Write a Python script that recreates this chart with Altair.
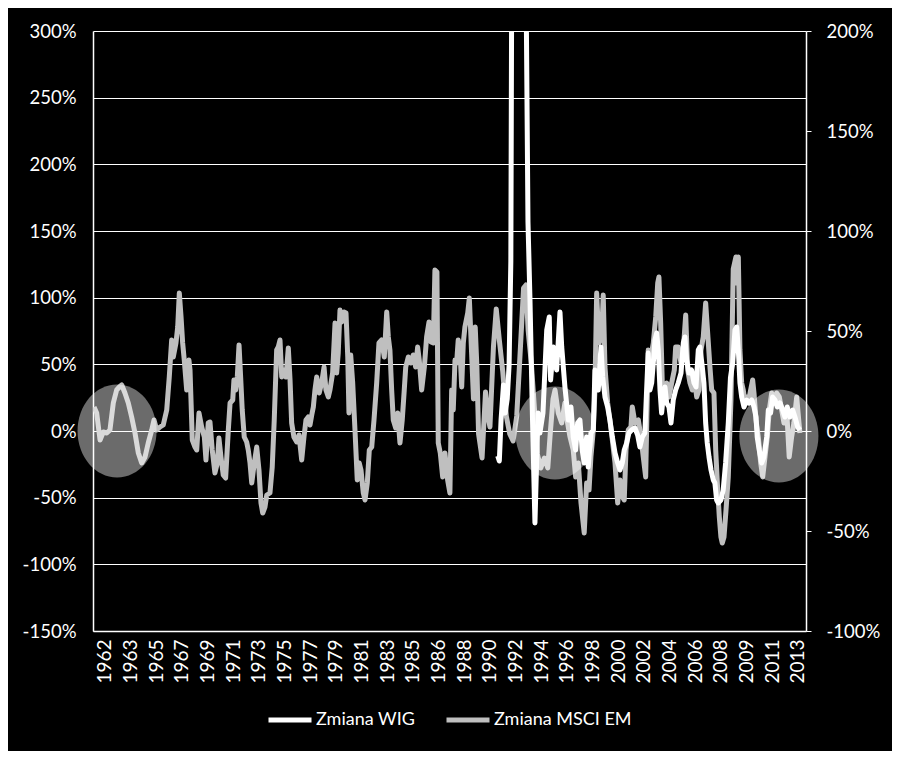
import json
import altair as alt
import pandas as pd

# ---------------- data ----------------
x_labels = ["1962", "1963", "1965", "1967", "1969", "1971", "1973", "1975", "1977",
            "1979", "1981", "1983", "1985", "1986", "1988", "1990", "1992", "1994",
            "1996", "1998", "2000", "2002", "2004", "2006", "2008", "2009", "2011", "2013"]

left_ticks = [-150, -100, -50, 0, 50, 100, 150, 200, 250, 300]
right_ticks = [-100, -50, 0, 50, 100, 150, 200]

series_names = ["Zmiana WIG", "Zmiana MSCI EM"]
series_colors = ["#ffffff", "#bfbfbf"]

# MSCI EM yearly change (right axis, %)
gray_year = [1961.18, 1961.38, 1961.63, 1961.87, 1962.13, 1962.37, 1962.62, 1962.87, 1963.07, 1963.25,
             1963.49, 1963.74, 1963.99, 1964.24, 1964.49, 1964.74, 1964.99, 1965.23, 1965.49, 1965.66,
             1965.86, 1966.11, 1966.35, 1966.61, 1966.80, 1966.98, 1967.10, 1967.30, 1967.43, 1967.55,
             1967.68, 1967.80, 1967.92, 1968.10, 1968.27, 1968.35, 1968.52, 1968.72, 1968.85, 1969.02,
             1969.22, 1969.42, 1969.54, 1969.71, 1969.84, 1970.01, 1970.21, 1970.39, 1970.51, 1970.66,
             1970.83, 1971.01, 1971.21, 1971.34, 1971.54, 1971.63, 1971.76, 1971.88, 1972.01, 1972.13,
             1972.25, 1972.40, 1972.58, 1972.70, 1972.83, 1972.96, 1973.15, 1973.33, 1973.50, 1973.65,
             1973.78, 1973.95, 1974.08, 1974.32, 1974.49, 1974.64, 1974.82, 1974.94, 1975.07, 1975.20,
             1975.37, 1975.52, 1975.69, 1975.82, 1975.94, 1976.11, 1976.32, 1976.49, 1976.69, 1976.86,
             1977.01, 1977.18, 1977.31, 1977.44, 1977.56, 1977.68, 1977.81, 1978.00, 1978.18, 1978.36,
             1978.50, 1978.68, 1978.80, 1979.00, 1979.18, 1979.30, 1979.42, 1979.55, 1979.68, 1979.85,
             1980.00, 1980.13, 1980.22, 1980.35, 1980.50, 1980.67, 1980.84, 1980.99, 1981.12, 1981.29,
             1981.42, 1981.59, 1981.74, 1981.92, 1982.09, 1982.29, 1982.46, 1982.66, 1982.86, 1983.04,
             1983.16, 1983.28, 1983.41, 1983.53, 1983.71, 1983.86, 1984.03, 1984.20, 1984.35, 1984.46,
             1984.65, 1984.85, 1985.02, 1985.20, 1985.35, 1985.47, 1985.65, 1985.85, 1986.02, 1986.20,
             1986.35, 1986.52, 1986.64, 1986.79, 1986.89, 1987.04, 1987.22, 1987.39, 1987.59, 1987.76,
             1987.89, 1988.01, 1988.14, 1988.26, 1988.38, 1988.51, 1988.64, 1988.76, 1988.88, 1989.09,
             1989.21, 1989.52, 1989.65, 1989.77, 1989.90, 1990.16, 1990.42, 1990.60, 1990.75, 1991.01,
             1991.22, 1991.45, 1991.71, 1991.97, 1992.23, 1992.48, 1992.75, 1993.00, 1993.26, 1993.44,
             1993.60, 1993.85, 1994.11, 1994.29, 1994.55, 1994.81, 1995.07, 1995.25, 1995.46, 1995.61,
             1995.85, 1996.11, 1996.35, 1996.55, 1996.73, 1996.97, 1997.15, 1997.35, 1997.55, 1997.79,
             1997.97, 1998.15, 1998.29, 1998.47, 1998.59, 1998.72, 1998.89, 1999.09, 1999.21, 1999.34,
             1999.54, 1999.71, 1999.89, 2000.09, 2000.29, 2000.46, 2000.66, 2000.78, 2000.91, 2001.08,
             2001.28, 2001.38, 2001.58, 2001.83, 2002.03, 2002.20, 2002.38, 2002.57, 2002.77, 2002.95,
             2003.13, 2003.28, 2003.37, 2003.50, 2003.62, 2003.77, 2003.95, 2004.12, 2004.32, 2004.52,
             2004.62, 2004.81, 2005.02, 2005.19, 2005.37, 2005.52, 2005.69, 2005.86, 2006.01, 2006.19,
             2006.36, 2006.51, 2006.68, 2006.86, 2007.01, 2007.18, 2007.31, 2007.48, 2007.61, 2007.76,
             2007.88, 2008.00, 2008.10, 2008.23, 2008.38, 2008.55, 2008.75, 2008.92, 2009.12, 2009.22,
             2009.30, 2009.42, 2009.55, 2009.67, 2009.80, 2009.92, 2010.04, 2010.22, 2010.37, 2010.47,
             2010.62, 2010.79, 2010.97, 2011.12, 2011.29, 2011.46, 2011.61, 2011.79, 2011.96, 2012.16,
             2012.36, 2012.54, 2012.71, 2012.91, 2013.10, 2013.28, 2013.45, 2013.66, 2013.83, 2013.90]
gray_change = [12, 9, -4.5, -0.5, -1, 0.5, 14, 20.5, 22, 23,
               19, 14, 7, -1, -11, -16, -13, -6, 0.5, 5.5,
               0.5, 2, 3, 10.5, 27, 45.5, 37, 44, 52, 69,
               57, 44, 35.5, 20.5, 35.5, 30.5, -4.5, -8, -9.5, 9,
               2, -3, -14.5, 4, 4.5, -9.5, -21, -16, -3.5, -13,
               -22, -23.5, 0.5, 14, 15.5, 25.5, 20.5, 27, 43, 27,
               10.5, -3, -5.5, -9.5, -16, -26, -16, -8, -19.5, -36,
               -41, -38, -32, -31, -18, 5.5, 40.5, 42, 45.5, 27,
               30.5, 27, 41.5, 25.5, 4, -3, -5.5, -2, -14.5, -3,
               5.5, 7, 3, 8, 12, 20.5, 27, 19, 24, 32,
               20.5, 17, 20.5, 29, 54, 29, 39, 60.5, 54.5, 59.5,
               59, 37, 9, 38, 24, 0.5, -24.5, -16, -19.5, -31,
               -34.5, -26, -9.5, -8, 5.5, 24, 44, 45.5, 37, 59.5,
               47, 40.5, 20.5, 5.5, 1.5, 9, -6, 5.5, 20.5, 32,
               37, 34, 38, 32, 42, 35.5, 20.5, 32, 47, 54.5,
               44.5, 44, 80.5, 79.5, -6, -11, -23, -11, -24.5, -31,
               20.5, 10.5, 35.5, 34, 45.5, 40.5, 22, 44, 52, 59,
               66.5, 16, 52, 33, -1.5, -13.5, 19.5, 7.5, 2, 42,
               61, 45.5, 29.5, 7.5, -1.5, -5, 7.5, 38.5, 71.5, 73,
               50.5, 33, 7.5, -11.5, -18.5, -13.5, -18.5, -1.5, 16, 20.5,
               9, 4, 14, 4, -3, -9.5, -23, -16, -36, -51,
               -26, -29.5, -13, 0.5, 20.5, 69, 44, 47, 68, 32,
               14, 5.5, -4.5, -16, -36, -24.5, -33, -34.5, -9.5, 0.5,
               2, 12, 4, 5.5, -3, -13, -23, 40.5, 37, 44,
               57, 74, 77, 54, 24, 20.5, 24, 17, 24, 30.5,
               42, 42, 34, 40.5, 58, 30.5, 24, 20.5, 27, 17,
               20.5, 40.5, 47, 64, 49, 32, 20.5, 19, -9.5, -29.5,
               -43, -53, -56, -53, -39.5, -23, 15.5, 81, 87, 74,
               87, 40.5, 24, 20.5, 14, 17, 14, 20.5, 25.5, 19,
               5.5, -3, -16, -23, -13, -3, 10.5, 19, 14, 19,
               17, 10.5, 4, 10.5, -13, -3, 4, 17, 4, -1]

# WIG yearly change (left axis, %)
wig_year = [1991.33, 1991.45, 1991.58, 1991.76, 1991.89, 1992.04, 1992.18, 1992.31, 1992.40, 1992.70,
            1993.00, 1993.30, 1993.45, 1993.59, 1993.74, 1993.93, 1994.11, 1994.34, 1994.48, 1994.71,
            1994.99, 1995.18, 1995.28, 1995.48, 1995.73, 1995.98, 1996.11, 1996.35, 1996.60, 1996.80,
            1996.97, 1997.15, 1997.30, 1997.47, 1997.64, 1997.79, 1997.97, 1998.09, 1998.29, 1998.47,
            1998.59, 1998.72, 1998.84, 1999.04, 1999.17, 1999.34, 1999.54, 1999.71, 1999.89, 2000.09,
            2000.29, 2000.46, 2000.63, 2000.78, 2000.96, 2001.13, 2001.33, 2001.58, 2001.78, 2001.95,
            2002.13, 2002.32, 2002.45, 2002.57, 2002.70, 2002.83, 2002.95, 2003.07, 2003.20, 2003.32,
            2003.45, 2003.57, 2003.69, 2003.82, 2003.95, 2004.12, 2004.27, 2004.44, 2004.62, 2004.81,
            2005.02, 2005.19, 2005.31, 2005.44, 2005.61, 2005.81, 2005.99, 2006.14, 2006.31, 2006.43,
            2006.61, 2006.73, 2006.86, 2006.98, 2007.11, 2007.26, 2007.43, 2007.55, 2007.68, 2007.80,
            2008.00, 2008.17, 2008.35, 2008.55, 2008.71, 2008.88, 2009.05, 2009.18, 2009.30, 2009.42,
            2009.55, 2009.72, 2009.92, 2010.12, 2010.30, 2010.47, 2010.62, 2010.71, 2010.86, 2011.04,
            2011.21, 2011.42, 2011.54, 2011.71, 2011.86, 2012.04, 2012.21, 2012.41, 2012.61, 2012.78,
            2012.95, 2013.15, 2013.36, 2013.53, 2013.73, 2013.90]
wig_change = [-18.75, -22.5, 8.25, 34.5, 13.5, 24, 49.5, 127.5, 420, 900,
              1050, 700, 330, 156.75, 98.25, 8.25, -69, 13.5, -1.5, 13.5,
              75.75, 85.5, 38.25, 63, 45.75, 89.25, 63, 33, 8.25, 18,
              -4.5, -14.25, 6, 8.25, -14.25, -24, -4.5, -27, -1.5, 0.75,
              45.75, 36, 30.75, 63, 40.5, 25.5, 18, 8.25, -4.5, -16.5,
              -24, -29.25, -24, -14.25, -9, -1.5, 0.75, 2.25, -3, -12,
              -4.5, -1.5, 30.75, 58.5, 30.75, 36, 51, 68.25, 73.5, 60.75,
              30.75, 13.5, 25.5, 33, 21, 18, 6, 23.25, 30.75, 36,
              43.5, 66, 70.5, 53.25, 43.5, 45.75, 36, 33, 60.75, 63,
              48, 36, 6, -9, -19.5, -29.25, -36.75, -39, -51.75, -54,
              -51.75, -44.25, -24, 6, 39.75, 51, 75.75, 78, 60.75, 36,
              25.5, 18, 23.25, 21, 23.25, 18, 10.5, -4.5, -14.25, -24,
              -19.5, -4.5, 15.75, 13.5, 25.5, 23.25, 18, 21, 15.75, 10.5,
              18, 10.5, 15.75, 10.5, 3, 0.75]

# highlighted periods (ellipses), in left-axis units
highlight_year = [1962.90, 1995.61, 2012.33]
highlight_change = [0, -1.5, -3.75]

# ---------------- chart ----------------
FONT = "Lato"
x_domain = [1961.104, 2014.354]
x_values = [1962 + 23 * k / 12 for k in range(len(x_labels))]
x_label_expr = json.dumps(x_labels) + "[round((datum.value - 1962) * 12 / 23)]"

wig_df = pd.DataFrame({"rok": wig_year, "zmiana": wig_change, "seria": series_names[0]})
msci_df = pd.DataFrame({"rok": gray_year, "zmiana": gray_change, "seria": series_names[1]})
circ_df = pd.DataFrame({"rok": highlight_year, "zmiana": highlight_change})

x_axis = alt.Axis(values=x_values, labelExpr=x_label_expr, labelAngle=-90, ticks=False,
                  grid=False, domainColor="#ffffff", domainWidth=1.5, labelColor="#ffffff",
                  labelFontSize=19, labelPadding=8, labelOverlap=False, labelFlush=False,
                  labelBound=False, title=None)
x_enc = alt.X("rok:Q", scale=alt.Scale(domain=x_domain, nice=False, zero=False), axis=x_axis)

color_enc = alt.Color(
    "seria:N",
    scale=alt.Scale(domain=series_names, range=series_colors),
    legend=alt.Legend(orient="none", legendX=173, legendY=665, direction="horizontal",
                      title=None, symbolType="stroke", symbolSize=1849, symbolStrokeWidth=5,
                      labelFontSize=18, labelColor="#ffffff", labelOffset=2,
                      columnPadding=20, padding=0),
)

msci_line = alt.Chart(msci_df).mark_line(strokeWidth=5, strokeJoin="round", clip=True).encode(
    x=x_enc,
    y=alt.Y("zmiana:Q",
            scale=alt.Scale(domain=[-100, 200], nice=False, zero=False),
            axis=alt.Axis(orient="right", values=right_ticks, labelExpr="datum.value + '%'",
                          grid=False, ticks=True, tickSize=5, tickColor="#ffffff",
                          domainColor="#ffffff", domainWidth=1.5, labelColor="#ffffff",
                          labelFontSize=18.5, labelPadding=15, title=None)),
    color=color_enc,
)

wig_line = alt.Chart(wig_df).mark_line(strokeWidth=5, strokeJoin="round", clip=True).encode(
    x=x_enc,
    y=alt.Y("zmiana:Q",
            scale=alt.Scale(domain=[-150, 300], nice=False, zero=False),
            axis=alt.Axis(orient="left", values=left_ticks, labelExpr="datum.value + '%'",
                          grid=True, gridColor="#ffffff", gridWidth=1.2, ticks=False,
                          domainColor="#ffffff", domainWidth=1.5, labelColor="#ffffff",
                          labelFontSize=18.5, labelPadding=17, title=None)),
    color=color_enc,
)

ellipse_path = "M -0.85 0 A 0.85 1 0 1 0 0.85 0 A 0.85 1 0 1 0 -0.85 0 Z"
circles = alt.Chart(circ_df).mark_point(
    shape=ellipse_path, size=8649, filled=True, fill="#ffffff", opacity=0.42, strokeWidth=0
).encode(
    x=x_enc,
    y=alt.Y("zmiana:Q", scale=alt.Scale(domain=[-150, 300], nice=False, zero=False), axis=None),
)

chart = alt.layer(msci_line, wig_line, circles).resolve_scale(
    y="independent"
).properties(
    width=713,
    height=600,
    autosize=alt.AutoSizeParams(type="none"),
    padding={"left": 85, "top": 23, "right": 86, "bottom": 120},
    background="#000000",
).configure_view(
    stroke=None
).configure_axis(
    labelFont=FONT
).configure_legend(
    labelFont=FONT
)

chart.save("out.html", embed_options={"renderer": "svg", "actions": False})
